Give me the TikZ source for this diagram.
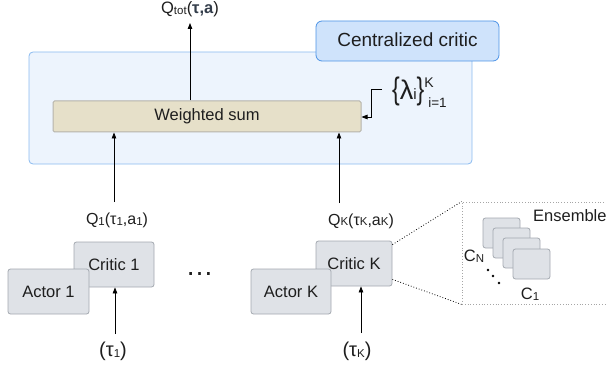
\documentclass[tikz,border=0pt]{standalone}
\usepackage{fontspec}
\setmainfont{Liberation Sans}
\usetikzlibrary{arrows.meta}

\definecolor{panelfill}{HTML}{EDF4FD}
\definecolor{paneledge}{HTML}{8BBBF0}
\definecolor{tagfill}{HTML}{CFE3FB}
\definecolor{tagedge}{HTML}{4C93E6}
\definecolor{sumfill}{HTML}{E6E0C9}
\definecolor{sumedge}{HTML}{B5B3AB}
\definecolor{boxfill}{HTML}{DFE2E7}
\definecolor{boxedge}{HTML}{A3A8B0}
\definecolor{ink}{HTML}{1E1E1E}
\definecolor{boldink}{HTML}{333D4A}

\newcommand\fsz[1]{\fontsize{#1}{#1}\selectfont}
\newcommand\lowsub[1]{\raisebox{-1pt}{\fsz{11.5}#1}}
\newcommand\tallbrace[1]{\scalebox{0.85}[1.15]{#1}}

\tikzset{
  panel/.style={draw=paneledge, fill=panelfill, line width=0.8pt, rounded corners=4pt},
  tagbox/.style={draw=tagedge, fill=tagfill, line width=0.8pt, rounded corners=6pt,
                 text=ink, font=\fsz{19}},
  sumbox/.style={draw=sumedge, fill=sumfill, line width=1pt, rounded corners=1.5pt,
                 text=ink, font=\fsz{16.5}},
  agentbox/.style={draw=boxedge, fill=boxfill, line width=0.8pt, rounded corners=2.5pt,
                   text=ink, font=\fsz{16.5}, minimum height=45pt},
  member/.style={draw=boxedge, fill=boxfill, line width=0.8pt, rounded corners=2.5pt,
                 minimum width=37pt, minimum height=30pt},
  lbl/.style={text=ink, inner sep=0pt},
  arr/.style={draw=black, line width=0.8pt, -{Triangle[length=6pt,width=4.5pt]}},
  zoomline/.style={draw=black, line width=0.8pt, dotted},
}

\begin{document}
\begin{tikzpicture}[x=1pt, y=-1pt]
\useasboundingbox (0,0) rectangle (606,369);

% centralized critic panel and its tag
\node[panel, minimum width=443pt, minimum height=112pt] (panel) at (250.5,108) {};
\node[tagbox, minimum width=183pt, minimum height=40pt] (tag) at (407.5,41) {\raisebox{2pt}{Centralized critic}};
\node[sumbox, minimum width=308pt, minimum height=31pt] (wsum) at (207,116.5) {Weighted sum};

% output of the mixer
\node[lbl, anchor=base, font=\fsz{16.5}] (qtot) at (190,14)
  {Q\lowsub{tot}({\color{boldink}\bfseries τ,a})};
\draw[arr] (wsum.north -| qtot) -- (190,23);

% mixing weights
\node[lbl, anchor=base west, font=\fsz{27}] (lam) at (392,100)
  {\tallbrace{\{}λ{\fsz{15}i}\tallbrace{\}}\rlap{\raisebox{13pt}{\fsz{14}K}}\hspace{4pt}\raisebox{-7pt}{\fsz{13.5}i=1}};
\coordinate (lamstart) at (382,89);
\draw[arr] (lamstart) -- (371,89) -- (371,117) -- (wsum.east |- 0,117);

% agents
\node[agentbox, minimum width=80pt] (critic1) at (114,264.5) {Critic 1};
\node[agentbox, minimum width=81pt] (actor1) at (48.5,291.5) {Actor 1};
\node[agentbox, minimum width=76pt] (criticK) at (354,263.5) {Critic K};
\node[agentbox, minimum width=80pt] (actorK) at (291,291.5) {Actor K};

\node[lbl, anchor=base, font=\fsz{28}] (dots) at (199.5,275) {…};

% critic outputs
\node[lbl, anchor=base, font=\fsz{16}] (q1) at (117,224)
  {Q\lowsub{1}(τ\lowsub{1},a\lowsub{1})};
\node[lbl, anchor=base, font=\fsz{16}] (qK) at (361,225)
  {Q\lowsub{K}(τ\lowsub{K},a\lowsub{K})};
\coordinate (q1top) at (114,202);
\coordinate (qKtop) at (339,203);
\draw[arr] (q1top) -- (q1top |- wsum.south);
\draw[arr] (qKtop) -- (qKtop |- wsum.south);

% local observations
\node[lbl, anchor=base, font=\fsz{20}] (tau1) at (113,356) {(τ\lowsub{1})};
\node[lbl, anchor=base, font=\fsz{20}] (tauK) at (357,356) {(τ\lowsub{K})};
\coordinate (tau1top) at (115,334);
\coordinate (tauKtop) at (361,333);
\draw[arr] (tau1top) -- (tau1top |- critic1.south);
\draw[arr] (tauKtop) -- (tauKtop |- criticK.south);

% ensemble detail
\begin{scope}
\clip (0,0) rectangle (606,369);
\node[draw=gray!70, dotted, line width=0.8pt, minimum width=160pt, minimum height=102pt,
      inner sep=0pt] (ens) at (542,253) {};
\node[lbl, anchor=base west, font=\fsz{16.5}] (enslbl) at (533,222) {Ensemble};
\end{scope}
\draw[zoomline] ([yshift=-4pt]criticK.north east) -- (ens.north west);
\draw[zoomline] ([yshift=7pt]criticK.south east) -- (ens.south west);

\node[member] (m4) at (501.5,233) {};
\node[member] (m3) at (511.5,243) {};
\node[member] (m2) at (521.5,253) {};
\node[member] (m1) at (531.5,264) {};

\node[lbl, anchor=base, font=\fsz{16.5}] (cN) at (474,261) {C\lowsub{N}};
\node[lbl, anchor=base, font=\fsz{16.5}] (c1) at (530,299) {C\lowsub{1}};
\fill[black] (488,270) circle (1.3) (493,276) circle (1.3) (499,283) circle (1.3);
\end{tikzpicture}
\end{document}
